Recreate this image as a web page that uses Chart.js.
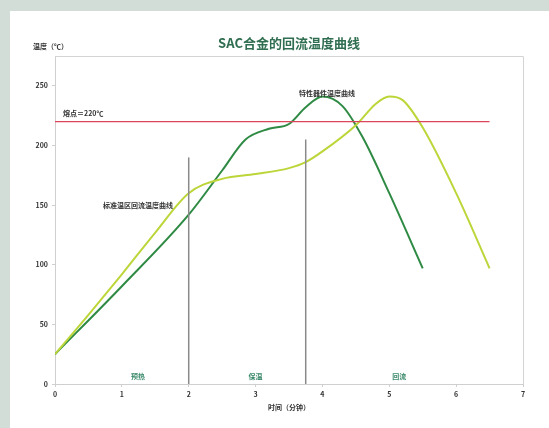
<!DOCTYPE html>
<html>
<head>
<meta charset="utf-8">
<script src="https://cdn.jsdelivr.net/npm/chart.js@4.4.1/dist/chart.umd.min.js"></script>
<style>
  html, body { margin: 0; padding: 0; }
  body { width: 549px; height: 428px; background: #d2ddd7; position: relative; overflow: hidden; }
  .panel { position: absolute; left: 10px; top: 11px; right: 0; bottom: 0; background: #fff; }
  canvas { position: absolute; left: 0; top: 0; }
</style>
</head>
<body>
<div class="panel"></div>
<canvas id="c" width="549" height="428"></canvas>
<script>
// 时间（分钟）-> 温度（℃）
const timeA = [0, 1, 2, 2.5, 2.85, 3.2, 3.5, 3.75, 4, 4.3, 4.6, 5, 5.5];
const tempA = [25, 82, 142, 179, 205, 214, 218, 232, 241, 233, 207, 160, 97];

const timeB = [0, 0.5, 1, 1.5, 2, 2.5, 3, 3.5, 3.75, 4, 4.5, 4.8, 5, 5.2, 5.5, 6, 6.5];
const tempB = [25, 58, 92, 127, 160, 172, 176, 181, 186, 195, 217, 235, 241, 238, 215, 160, 97];

const meltTemp = 220;
const meltRange = [0, 6.5];

// 区间分界线
const zoneBounds = [2, 3.75];
const zoneTops = [190, 205];
const zoneNames = ["预热", "保温", "回流"];
const zoneCenters = [1.24, 3.0, 5.15];

const xTicks = [0, 1, 2, 3, 4, 5, 6, 7];
const yTicks = [0, 50, 100, 150, 200, 250];

const toPts = (xs, ys) => xs.map((x, i) => ({ x, y: ys[i] }));

const textFont = '"Noto Sans CJK SC", "Noto Sans", sans-serif';

const labelsPlugin = {
  id: 'labels',
  afterDraw(chart) {
    const { ctx, chartArea, scales: { x, y } } = chart;
    ctx.save();
    // 图框
    ctx.strokeStyle = '#d4d4d4';
    ctx.lineWidth = 1;
    ctx.beginPath();
    ctx.moveTo(chartArea.left, chartArea.top + 0.5);
    ctx.lineTo(chartArea.right + 0.5, chartArea.top + 0.5);
    ctx.lineTo(chartArea.right + 0.5, chartArea.bottom);
    ctx.stroke();

    ctx.textAlign = 'center';
    ctx.textBaseline = 'middle';

    // 标题
    ctx.fillStyle = '#2f6e50';
    ctx.font = 'bold 13px ' + textFont;
    ctx.fillText('SAC合金的回流温度曲线', (chartArea.left + chartArea.right) / 2, 43);

    // 坐标轴标题
    ctx.fillStyle = '#333';
    ctx.font = 'bold 7px ' + textFont;
    ctx.textAlign = 'left';
    ctx.fillText('温度（℃）', 33, 46);
    ctx.textAlign = 'center';
    ctx.fillText('时间（分钟）', (chartArea.left + chartArea.right) / 2, 407);

    // 曲线标注
    ctx.fillText('特性器件温度曲线', x.getPixelForValue(4.07), y.getPixelForValue(244));
    ctx.fillText('标准温区回流温度曲线', x.getPixelForValue(1.24), y.getPixelForValue(150));
    ctx.textAlign = 'left';
    ctx.fillText('熔点＝220℃', x.getPixelForValue(0.12), y.getPixelForValue(227));

    // 区间名称
    ctx.textAlign = 'center';
    ctx.fillStyle = '#3b8a6c';
    ctx.font = 'bold 7px ' + textFont;
    zoneNames.forEach((n, i) => {
      ctx.fillText(n, x.getPixelForValue(zoneCenters[i]), y.getPixelForValue(6));
    });
    ctx.restore();
  }
};

new Chart(document.getElementById('c'), {
  type: 'line',
  data: {
    datasets: [
      {
        label: '熔点',
        data: toPts(meltRange, [meltTemp, meltTemp]),
        borderColor: 'rgb(220, 70, 90)',
        borderWidth: 1.3,
        pointRadius: 0,
        tension: 0,
      },
      ...zoneBounds.map((b, i) => ({
        label: 'zone' + i,
        data: toPts([b, b], [0, zoneTops[i]]),
        borderColor: '#8a8a8a',
        borderWidth: 1.5,
        pointRadius: 0,
        tension: 0,
      })),
      {
        label: '标准温区回流温度曲线',
        data: toPts(timeB, tempB),
        borderColor: '#bcd63a',
        borderWidth: 2,
        pointRadius: 0,
        cubicInterpolationMode: 'monotone',
      },
      {
        label: '特性器件温度曲线',
        data: toPts(timeA, tempA),
        borderColor: '#2f8a44',
        borderWidth: 2,
        pointRadius: 0,
        cubicInterpolationMode: 'monotone',
      },
    ],
  },
  options: {
    responsive: false,
    animation: false,
    layout: { padding: { left: 0, top: 56, right: 26, bottom: 0 } },
    plugins: {
      legend: { display: false },
      tooltip: { enabled: false },
    },
    scales: {
      x: {
        type: 'linear',
        min: 0,
        max: 7,
        afterBuildTicks: (s) => { s.ticks = xTicks.map((v) => ({ value: v })); },
        afterFit: (s) => { s.height = 44; },
        grid: { display: true, drawOnChartArea: false, tickLength: 3, color: '#cfcfcf' },
        border: { color: '#cfcfcf' },
        ticks: { color: '#333', font: { size: 7, weight: 'bold', family: textFont }, padding: 3, maxRotation: 0 },
      },
      y: {
        min: 0,
        max: 275,
        afterBuildTicks: (s) => { s.ticks = yTicks.map((v) => ({ value: v })); },
        afterFit: (s) => { s.width = 55; },
        grid: { display: true, drawOnChartArea: false, tickLength: 3, color: '#cfcfcf' },
        border: { color: '#cfcfcf' },
        ticks: { color: '#333', font: { size: 7, weight: 'bold', family: textFont }, padding: 4 },
      },
    },
  },
  plugins: [labelsPlugin],
});
</script>
</body>
</html>
